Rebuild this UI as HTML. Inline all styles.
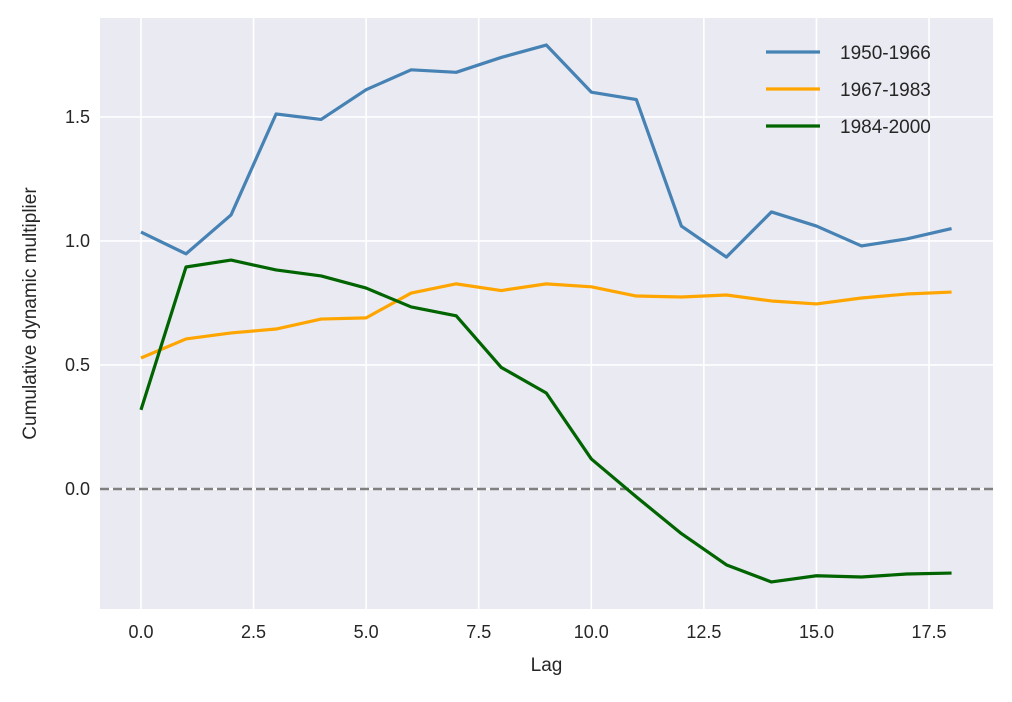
<!DOCTYPE html>
<html><head><meta charset="utf-8"><style>
body{margin:0;background:#fff;}
svg text{font-family:"Liberation Sans",sans-serif;fill:#262626;}
</style></head><body>
<svg id="chart" width="1012" height="697"></svg>
<script>
const lags=[0,1,2,3,4,5,6,7,8,9,10,11,12,13,14,15,16,17,18];
const seriesNames=["1950-1966","1967-1983","1984-2000"];
const s1950=[1.036,0.948,1.105,1.512,1.49,1.61,1.69,1.68,1.74,1.79,1.60,1.57,1.06,0.935,1.117,1.06,0.98,1.008,1.05];
const s1967=[0.528,0.605,0.629,0.645,0.685,0.69,0.79,0.827,0.80,0.827,0.815,0.778,0.774,0.782,0.758,0.746,0.77,0.786,0.794];
const s1984=[0.319,0.895,0.923,0.883,0.859,0.81,0.734,0.698,0.49,0.387,0.121,-0.032,-0.18,-0.306,-0.375,-0.35,-0.355,-0.343,-0.339];
const xTicks=[0,2.5,5,7.5,10,12.5,15,17.5];
const yTicks=[0,0.5,1.0,1.5];
const colors=["#4682b4","#ffa500","#006400"];
const L=100,R=993,T=18,B=609;
const xMin=-0.91,xMax=18.92,yMin=-0.484,yMax=1.899;
const sx=v=>L+(v-xMin)/(xMax-xMin)*(R-L);
const sy=v=>B-(v-yMin)/(yMax-yMin)*(B-T);
const svg=document.getElementById('chart');
const NS="http://www.w3.org/2000/svg";
function mk(tag,attrs,parent){const e=document.createElementNS(NS,tag);for(const k in attrs)e.setAttribute(k,attrs[k]);(parent||svg).appendChild(e);return e;}
let bg=mk('rect',{x:L,y:T,width:R-L,height:B-T,fill:'#eaeaf2'});


xTicks.forEach(t=>{
  const g=mk('line',{x1:sx(t),x2:sx(t),y1:T,y2:B,stroke:'#fff','stroke-width':1.6});
  
  
  const tx=mk('text',{x:sx(t),y:B+29,'text-anchor':'middle','font-size':18});
  tx.textContent=t.toFixed(1);
  
  
});
yTicks.forEach(t=>{
  const g=mk('line',{x1:L,x2:R,y1:sy(t),y2:sy(t),stroke:'#fff','stroke-width':1.6});
  
  
  const tx=mk('text',{x:L-10,y:sy(t)+6,'text-anchor':'end','font-size':18});
  tx.textContent=t.toFixed(1);
  
  
});
let zl=mk('line',{x1:L,x2:R,y1:sy(0),y2:sy(0),stroke:'#808080','stroke-width':2.5,'stroke-dasharray':'9,4'});


[s1950,s1967,s1984].forEach((s,i)=>{
  const p=mk('polyline',{points:s.map((v,j)=>sx(lags[j])+','+sy(v)).join(' '),fill:'none',stroke:colors[i],'stroke-width':3.2,'stroke-linejoin':'round'});
  
  
});
seriesNames.forEach((n,i)=>{
  const y=52+i*37;
  const l=mk('line',{x1:766,x2:820,y1:y,y2:y,stroke:colors[i],'stroke-width':3.2});
  
  
  const t=mk('text',{x:840,y:y+7,'font-size':19});
  t.textContent=n;
  
  
});
let xl=mk('text',{x:(L+R)/2,y:671,'text-anchor':'middle','font-size':19});
xl.textContent='Lag';


let yl=mk('text',{x:0,y:0,'text-anchor':'middle','font-size':19,transform:'translate(36,'+((T+B)/2)+') rotate(-90)'});
yl.textContent='Cumulative dynamic multiplier';


</script>
</body></html>
